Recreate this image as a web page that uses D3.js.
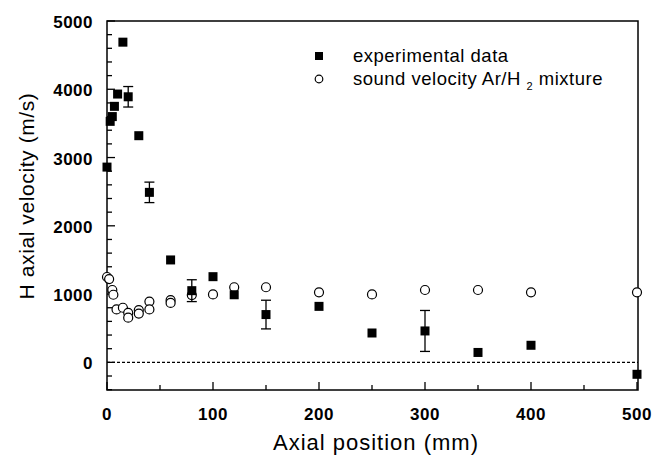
<!DOCTYPE html>
<html>
<head>
<meta charset="utf-8">
<script src="https://cdn.jsdelivr.net/npm/d3@7"></script>
<style>
  body { margin: 0; background: #fff; }
  svg text { font-family: "Liberation Sans", Arial, sans-serif; fill: #000; }
  .tick-label { font-size: 17px; font-weight: bold; letter-spacing: 0.5px; }
  .axis-title { font-size: 22px; letter-spacing: 1px; }
  .legend-text { font-size: 18.5px; letter-spacing: 0.5px; }
</style>
</head>
<body>
<div id="chart"></div>
<script>
// experimental data (mm, m/s) and error bars
const expX   = [0, 3, 5, 7, 10, 15, 20, 30, 40, 60, 80, 100, 120, 150, 200, 250, 300, 350, 400, 500];
const expY   = [2860, 3530, 3600, 3750, 3930, 4690, 3890, 3320, 2490, 1500, 1050, 1255, 990, 700, 820, 430, 460, 145, 250, -175];
const expErr = [0, 0, 0, 0, 0, 0, 150, 0, 150, 0, 160, 0, 0, 210, 0, 0, 300, 0, 0, 0];

// sound velocity Ar/H2 mixture
const sndX = [0, 2, 5, 6, 9, 15, 20, 20, 30, 30, 40, 40, 60, 60, 80, 100, 120, 150, 200, 250, 300, 350, 400, 500];
const sndY = [1250, 1220, 1060, 990, 775, 800, 725, 655, 765, 715, 890, 775, 910, 870, 985, 995, 1100, 1100, 1025, 995, 1060, 1060, 1025, 1025];

const xTicks = [0, 100, 200, 300, 400, 500];
const yTicks = [0, 1000, 2000, 3000, 4000, 5000];

const W = 653, H = 455;
const margin = { top: 21, right: 15, bottom: 65, left: 107 };
const width = W - margin.left - margin.right;
const height = H - margin.top - margin.bottom;

const svg = d3.select("#chart").append("svg")
    .attr("width", W)
    .attr("height", H);

const g = svg.append("g")
    .attr("transform", `translate(${margin.left},${margin.top})`);

const x = d3.scaleLinear().domain([0, 500]).range([0, 530]);
const y = d3.scaleLinear().domain([-405, 5000]).range([height, 0]);

// frame
g.append("rect")
    .attr("width", width).attr("height", height)
    .attr("fill", "none").attr("stroke", "#000").attr("stroke-width", 1.5);

// x ticks (inward)
const xMinor = d3.range(0, 501, 50);
g.selectAll(".xt").data(xMinor).enter().append("line")
    .attr("x1", d => x(d)).attr("x2", d => x(d))
    .attr("y1", height).attr("y2", d => height - (d % 100 === 0 ? 8 : 5))
    .attr("stroke", "#000").attr("stroke-width", 1.3);

g.selectAll(".xl").data(xTicks).enter().append("text")
    .attr("class", "tick-label")
    .attr("x", d => x(d)).attr("y", height + 30)
    .attr("text-anchor", "middle")
    .text(d => d);

// y ticks (inward)
const yMinor = d3.range(-400, 5001, 200);
g.selectAll(".yt").data(yMinor).enter().append("line")
    .attr("x1", 0).attr("x2", d => (d % 1000 === 0 ? 8 : 5))
    .attr("y1", d => y(d)).attr("y2", d => y(d))
    .attr("stroke", "#000").attr("stroke-width", 1.3);

g.selectAll(".yl").data(yTicks).enter().append("text")
    .attr("class", "tick-label")
    .attr("x", -14).attr("y", d => y(d) + 7)
    .attr("text-anchor", "end")
    .text(d => d);

// zero line
g.append("line")
    .attr("x1", 0).attr("x2", width)
    .attr("y1", y(0)).attr("y2", y(0))
    .attr("stroke", "#000").attr("stroke-width", 1.2)
    .attr("stroke-dasharray", "3,2");

// axis titles
svg.append("text").attr("class", "axis-title")
    .attr("x", 376).attr("y", 450)
    .attr("text-anchor", "middle")
    .text("Axial position (mm)");

svg.append("text").attr("class", "axis-title")
    .attr("transform", "translate(34,196) rotate(-90)")
    .attr("text-anchor", "middle")
    .style("font-size", "21px").style("letter-spacing", "0.6px")
    .text("H axial velocity (m/s)");

// sound velocity circles
g.selectAll(".snd").data(sndX).enter().append("circle")
    .attr("cx", d => x(d))
    .attr("cy", (d, i) => y(sndY[i]))
    .attr("r", 4.5)
    .attr("fill", "#fff").attr("stroke", "#000").attr("stroke-width", 1.2);

// error bars
const expData = expX.map((d, i) => ({ x: d, y: expY[i], e: expErr[i] })).filter(d => d.e > 0);
const eb = g.selectAll(".eb").data(expData).enter().append("g");
eb.append("line")
    .attr("x1", d => x(d.x)).attr("x2", d => x(d.x))
    .attr("y1", d => y(d.y - d.e)).attr("y2", d => y(d.y + d.e))
    .attr("stroke", "#000").attr("stroke-width", 1.3);
[-1, 1].forEach(s => {
    eb.append("line")
        .attr("x1", d => x(d.x) - 5).attr("x2", d => x(d.x) + 5)
        .attr("y1", d => y(d.y + s * d.e)).attr("y2", d => y(d.y + s * d.e))
        .attr("stroke", "#000").attr("stroke-width", 1.3);
});

// experimental squares
const sq = 9;
g.selectAll(".exp").data(expX).enter().append("rect")
    .attr("x", d => x(d) - sq / 2)
    .attr("y", (d, i) => y(expY[i]) - sq / 2)
    .attr("width", sq).attr("height", sq)
    .attr("fill", "#000");

// legend
const leg = svg.append("g");
leg.append("rect").attr("x", 315).attr("y", 52).attr("width", 8).attr("height", 8).attr("fill", "#000");
leg.append("text").attr("class", "legend-text").attr("x", 353).attr("y", 62).text("experimental data");
leg.append("circle").attr("cx", 319).attr("cy", 79).attr("r", 3.8)
    .attr("fill", "#fff").attr("stroke", "#000").attr("stroke-width", 1.2);
const t2 = leg.append("text").attr("class", "legend-text").attr("x", 353).attr("y", 85);
t2.append("tspan").text("sound velocity Ar/H ");
t2.append("tspan").attr("font-size", "11px").attr("dy", 5).text("2");
t2.append("tspan").attr("dy", -5).text(" mixture");
</script>
</body>
</html>
